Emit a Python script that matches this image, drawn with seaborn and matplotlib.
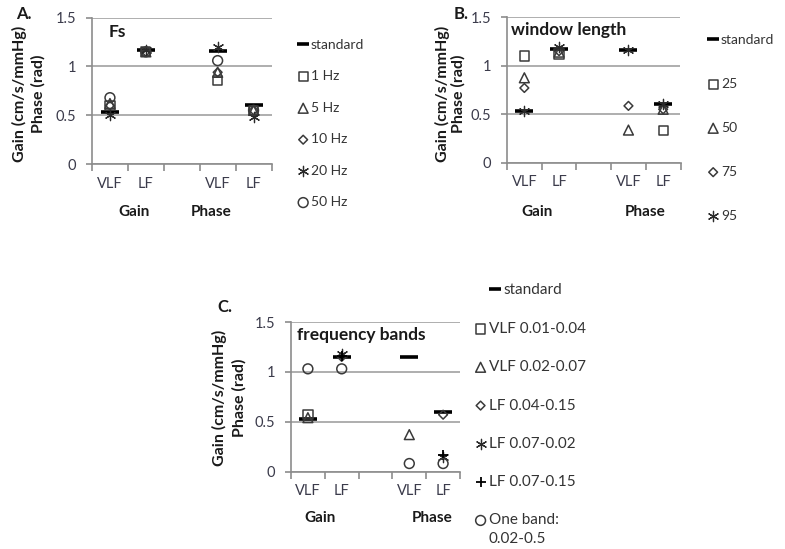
import numpy as np
import pandas as pd
import matplotlib
matplotlib.use("Agg")
import matplotlib.pyplot as plt
from matplotlib.lines import Line2D
import seaborn as sns

# ---------------- data ----------------
slot_keys = ["Gain VLF", "Gain LF", "gap", "Phase VLF", "Phase LF"]
slot_labels = ["VLF", "LF", "", "VLF", "LF"]
measures = ["Gain VLF", "Gain LF", "Phase VLF", "Phase LF"]
group_labels = ["Gain", "Phase"]
y_ticks = [0, 0.5, 1, 1.5]
y_tick_labels = ["0", "0.5", "1", "1.5"]
nan = np.nan

# Panel A: sampling frequency
a_labels = ["standard", "1 Hz", "5 Hz", "10 Hz", "20 Hz", "50 Hz"]
a_standard = [0.53, 1.17, 1.16, 0.60]
a_1hz = [0.60, 1.15, 0.86, 0.55]
a_5hz = [0.62, 1.15, 0.94, 0.55]
a_10hz = [0.60, 1.15, 0.94, 0.55]
a_20hz = [0.50, 1.17, 1.20, 0.48]
a_50hz = [0.68, 1.15, 1.06, 0.55]

# Panel B: window length
b_labels = ["standard", "25", "50", "75", "95"]
b_standard = [0.53, 1.17, 1.16, 0.60]
b_25 = [1.10, 1.12, nan, 0.33]
b_50 = [0.875, 1.14, 0.335, 0.55]
b_75 = [0.77, 1.15, 0.585, 0.55]
b_95 = [0.53, 1.19, 1.16, 0.60]

# Panel C: frequency bands
c_labels = ["standard", "VLF 0.01-0.04", "VLF 0.02-0.07", "LF 0.04-0.15",
            "LF 0.07-0.02", "LF 0.07-0.15", "One band:"]
c_last_label_line2 = "0.02-0.5"
c_standard = [0.53, 1.15, 1.15, 0.60]
c_vlf_a = [0.57, nan, nan, nan]
c_vlf_b = [0.54, nan, 0.37, nan]
c_lf_a = [nan, 1.15, nan, 0.57]
c_lf_b = [nan, 1.18, nan, 0.15]
c_lf_c = [nan, 1.16, nan, 0.17]
c_one = [1.03, 1.03, 0.08, 0.08]

# ---------------- style ----------------
sns.set_style("white")
plt.rcParams["font.family"] = ["Lato", "DejaVu Sans"]

W, H = 785, 549
fig = plt.figure(figsize=(W / 100, H / 100), dpi=100)


def P(x, y):
    return (x / W, 1 - y / H)


def rect(l, t, r, b):
    return [l / W, 1 - b / H, (r - l) / W, (b - t) / H]


TXT = "#3b3b4b"
EDGE = "#3a3a3a"
AST = (6, 2, 0)

marker_styles = {
    "_": dict(s=170, color="black", linewidth=2.6),
    "s": dict(s=44, facecolors="none", edgecolor=EDGE, linewidth=1.1),
    "^": dict(s=50, facecolors="none", edgecolor=EDGE, linewidth=1.1),
    "D": dict(s=20, facecolors="none", edgecolor=EDGE, linewidth=1.1),
    "o": dict(s=50, facecolors="none", edgecolor=EDGE, linewidth=1.1),
    AST: dict(s=55, color="#2a2a2a", linewidth=0.9),
    "+": dict(s=60, color="black", linewidth=1.3),
}


def draw_panel(ax, labels, series, markers):
    for lab, vals, m in zip(labels, series, markers):
        df = pd.DataFrame({"measure": measures, "value": vals})
        df["slot"] = df["measure"].map(slot_keys.index)
        sns.scatterplot(data=df, x="slot", y="value", ax=ax, marker=m,
                        label=lab, zorder=3, **marker_styles[m])
    ax.set_xlim(-0.5, len(slot_keys) - 0.5)
    ax.set_ylim(0, 1.5)
    ax.set_xlabel("")
    ax.set_ylabel("")
    ax.set_yticks(y_ticks, y_tick_labels)
    bounds = np.arange(len(slot_keys) + 1) - 0.5
    ax.set_xticks(bounds, [""] * len(bounds))
    centers = [i for i, s in enumerate(slot_labels) if s]
    ax.set_xticks(centers, [slot_labels[i] for i in centers], minor=True)
    ax.tick_params(axis="x", which="major", length=5, width=1.2,
                   color="#8c8c8c", direction="out", bottom=True)
    ax.tick_params(axis="x", which="minor", length=0, pad=9,
                   labelsize=10.5, labelcolor=TXT)
    ax.tick_params(axis="y", length=4, width=1.2, color="#8c8c8c",
                   direction="out", left=True, pad=7.5, labelsize=10.5,
                   labelcolor=TXT)
    ax.yaxis.grid(True, color="#a8a8a8", linewidth=1.3)
    ax.xaxis.grid(False)
    ax.set_axisbelow(True)
    sns.despine(ax=ax)
    for sp in ("left", "bottom"):
        ax.spines[sp].set_color("#8c8c8c")
        ax.spines[sp].set_linewidth(1.2)
    if ax.get_legend() is not None:
        ax.get_legend().remove()


def group_text(ax, fracs, dy):
    for g, f in zip(group_labels, fracs):
        ax.annotate(g, xy=(f, 0), xycoords="axes fraction",
                    xytext=(0, -dy * 0.72), textcoords="offset points",
                    ha="center", va="center", fontsize=11,
                    fontweight="bold", color="#1a1a1a")


def ylabels(xg, xp, yc, size=11.5):
    fig.text(*P(xg, yc), "Gain (cm/s/mmHg)", rotation=90, ha="center",
             va="center", fontsize=size, fontweight="bold", color="#1a1a1a")
    fig.text(*P(xp, yc), "Phase (rad)", rotation=90, ha="center",
             va="center", fontsize=size, fontweight="bold", color="#1a1a1a")


def make_legend(ax, handles, labels, x, y, spacing, size):
    leg = ax.legend(handles, labels, loc="upper left", bbox_to_anchor=P(x, y),
                    bbox_transform=fig.transFigure, frameon=False,
                    borderpad=0, borderaxespad=0, handlelength=0.6,
                    handletextpad=0.25, labelspacing=spacing, fontsize=size,
                    labelcolor="#333333", scatterpoints=1)
    return leg


std_handle = Line2D([], [], marker="_", color="black", markersize=9,
                    markeredgewidth=2.6, linestyle="none")

# ---------------- Panel A ----------------
axA = fig.add_axes(rect(92, 17.7, 271.5, 164))
draw_panel(axA, a_labels,
           [a_standard, a_1hz, a_5hz, a_10hz, a_20hz, a_50hz],
           ["_", "s", "^", "D", AST, "o"])
group_text(axA, [0.234, 0.663], 48)
ylabels(19, 38, 94)
fig.text(*P(24, 14), "A.", ha="center", va="center", fontsize=12,
         fontweight="bold", color="#1a1a1a")
axA.text(0.094, 0.905, "Fs", transform=axA.transAxes, ha="left",
         va="center", fontsize=12.5, fontweight="bold", color="#1a1a1a")
h, l = axA.get_legend_handles_labels()
h[0] = std_handle
make_legend(axA, h, l, 299, 39, 1.4, 10)

# ---------------- Panel B ----------------
axB = fig.add_axes(rect(507, 17.3, 680.5, 162.5))
draw_panel(axB, b_labels, [b_standard, b_25, b_50, b_75, b_95],
           ["_", "s", "^", "D", AST])
group_text(axB, [0.173, 0.795], 49.5)
ylabels(442, 458, 94)
fig.text(*P(461, 14), "B.", ha="center", va="center", fontsize=12,
         fontweight="bold", color="#1a1a1a")
axB.text(0.023, 0.91, "window length", transform=axB.transAxes, ha="left",
         va="center", fontsize=12.5, fontweight="bold", color="#1a1a1a")
h, l = axB.get_legend_handles_labels()
h[0] = std_handle
make_legend(axB, h, l, 709, 34, 2.3, 10)

# ---------------- Panel C ----------------
axC = fig.add_axes(rect(291, 322, 460, 471.5))
draw_panel(axC, c_labels,
           [c_standard, c_vlf_a, c_vlf_b, c_lf_a, c_lf_b, c_lf_c, c_one],
           ["_", "s", "^", "D", AST, "+", "o"])
group_text(axC, [0.172, 0.834], 46.5)
ylabels(219, 239, 398)
fig.text(*P(225, 307), "C.", ha="center", va="center", fontsize=12,
         fontweight="bold", color="#1a1a1a")
axC.text(0.036, 0.91, "frequency bands", transform=axC.transAxes, ha="left",
         va="center", fontsize=12.5, fontweight="bold", color="#1a1a1a")
h, l = axC.get_legend_handles_labels()
leg_std = make_legend(axC, [std_handle], l[:1], 490, 283, 1.3, 11)
axC.add_artist(leg_std)
legC = make_legend(axC, h[1:], l[1:], 476, 322, 1.59, 11)

# second line of the last legend label, placed under its first line
fig.canvas.draw()
last_txt = legC.get_texts()[-1]
bb = last_txt.get_window_extent()
fig.text(bb.x0 / W, (bb.y0 - 19) / H, c_last_label_line2, ha="left",
         va="bottom", fontsize=11, color="#333333")

fig.savefig("out.png", dpi=100)
